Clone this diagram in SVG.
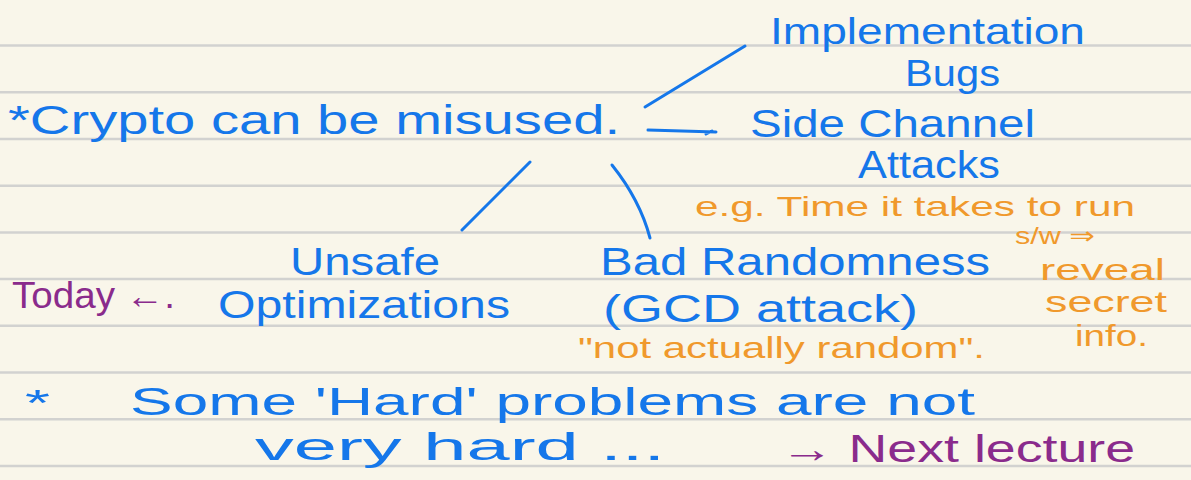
<svg xmlns="http://www.w3.org/2000/svg" width="1191" height="480" viewBox="0 0 1191 480">
<style>
.rule{stroke:#d2d2d0;stroke-width:2.5}
.t{font-family:"Liberation Sans","DejaVu Sans",sans-serif}
.b{fill:#1577ea}
.o{fill:#f0992c}
.p{fill:#8a2b8c}
.c{stroke:#1577ea;stroke-width:3;fill:none;stroke-linecap:round}
</style>
<rect width="1191" height="480" fill="#f9f6ea"/>
<g id="rules">
<line class="rule" x1="0" y1="45.5" x2="1191" y2="45.5"/>
<line class="rule" x1="0" y1="92.3" x2="1191" y2="92.3"/>
<line class="rule" x1="0" y1="139" x2="1191" y2="139"/>
<line class="rule" x1="0" y1="185.7" x2="1191" y2="185.7"/>
<line class="rule" x1="0" y1="232.4" x2="1191" y2="232.4"/>
<line class="rule" x1="0" y1="279" x2="1191" y2="279"/>
<line class="rule" x1="0" y1="325.8" x2="1191" y2="325.8"/>
<line class="rule" x1="0" y1="372.5" x2="1191" y2="372.5"/>
<line class="rule" x1="0" y1="419.2" x2="1191" y2="419.2"/>
<line class="rule" x1="0" y1="466" x2="1191" y2="466"/>
</g>
<g id="connectors">
<path class="c" d="M645 107 L745 46"/>
<path class="c" d="M648 130 L716 132 M712 131 L706 134"/>
<path class="c" d="M530 162 L462 230"/>
<path class="c" d="M612 165 Q640 200 650 238"/>
</g>
<g id="n-crypto">
<text class="t b" x="8" y="134" font-size="40" textLength="612" lengthAdjust="spacingAndGlyphs">*Crypto  can  be  misused.</text>
</g>
<g id="n-impl">
<text class="t b" x="770" y="44" font-size="36" textLength="315" lengthAdjust="spacingAndGlyphs">Implementation</text>
<text class="t b" x="905" y="86" font-size="36" textLength="95" lengthAdjust="spacingAndGlyphs">Bugs</text>
</g>
<g id="n-side">
<text class="t b" x="750" y="137" font-size="38" textLength="285" lengthAdjust="spacingAndGlyphs">Side  Channel</text>
<text class="t b" x="858" y="178" font-size="38" textLength="142" lengthAdjust="spacingAndGlyphs">Attacks</text>
</g>
<g id="n-sidenote">
<text class="t o" x="695" y="216" font-size="28" textLength="440" lengthAdjust="spacingAndGlyphs">e.g. Time it takes to run</text>
<text class="t o" x="1015" y="244" font-size="24" textLength="80" lengthAdjust="spacingAndGlyphs">s/w ⇒</text>
<text class="t o" x="1040" y="280" font-size="29" textLength="125" lengthAdjust="spacingAndGlyphs">reveal</text>
<text class="t o" x="1045" y="312" font-size="29" textLength="122" lengthAdjust="spacingAndGlyphs">secret</text>
<text class="t o" x="1075" y="346" font-size="29" textLength="73" lengthAdjust="spacingAndGlyphs">info.</text>
</g>
<g id="n-unsafe">
<text class="t b" x="290" y="275" font-size="38" textLength="150" lengthAdjust="spacingAndGlyphs">Unsafe</text>
<text class="t b" x="218" y="318" font-size="38" textLength="292" lengthAdjust="spacingAndGlyphs">Optimizations</text>
</g>
<g id="n-today">
<text class="t p" x="12" y="308" font-size="36" textLength="163" lengthAdjust="spacingAndGlyphs">Today ←.</text>
</g>
<g id="n-bad">
<text class="t b" x="600" y="275" font-size="38" textLength="390" lengthAdjust="spacingAndGlyphs">Bad  Randomness</text>
<text class="t b" x="603" y="322" font-size="38" textLength="315" lengthAdjust="spacingAndGlyphs">(GCD  attack)</text>
<text class="t o" x="578" y="358" font-size="30" textLength="407" lengthAdjust="spacingAndGlyphs">"not actually random".</text>
</g>
<g id="n-hard">
<text class="t b" x="25" y="416" font-size="36" textLength="25" lengthAdjust="spacingAndGlyphs">*</text>
<text class="t b" x="130" y="415" font-size="38" textLength="845" lengthAdjust="spacingAndGlyphs">Some  'Hard'  problems  are  not</text>
<text class="t b" x="255" y="460" font-size="38" textLength="410" lengthAdjust="spacingAndGlyphs">very  hard  ...</text>
</g>
<g id="n-next">
<text class="t p" x="780" y="462" font-size="38" textLength="355" lengthAdjust="spacingAndGlyphs">→ Next lecture</text>
</g>
</svg>
